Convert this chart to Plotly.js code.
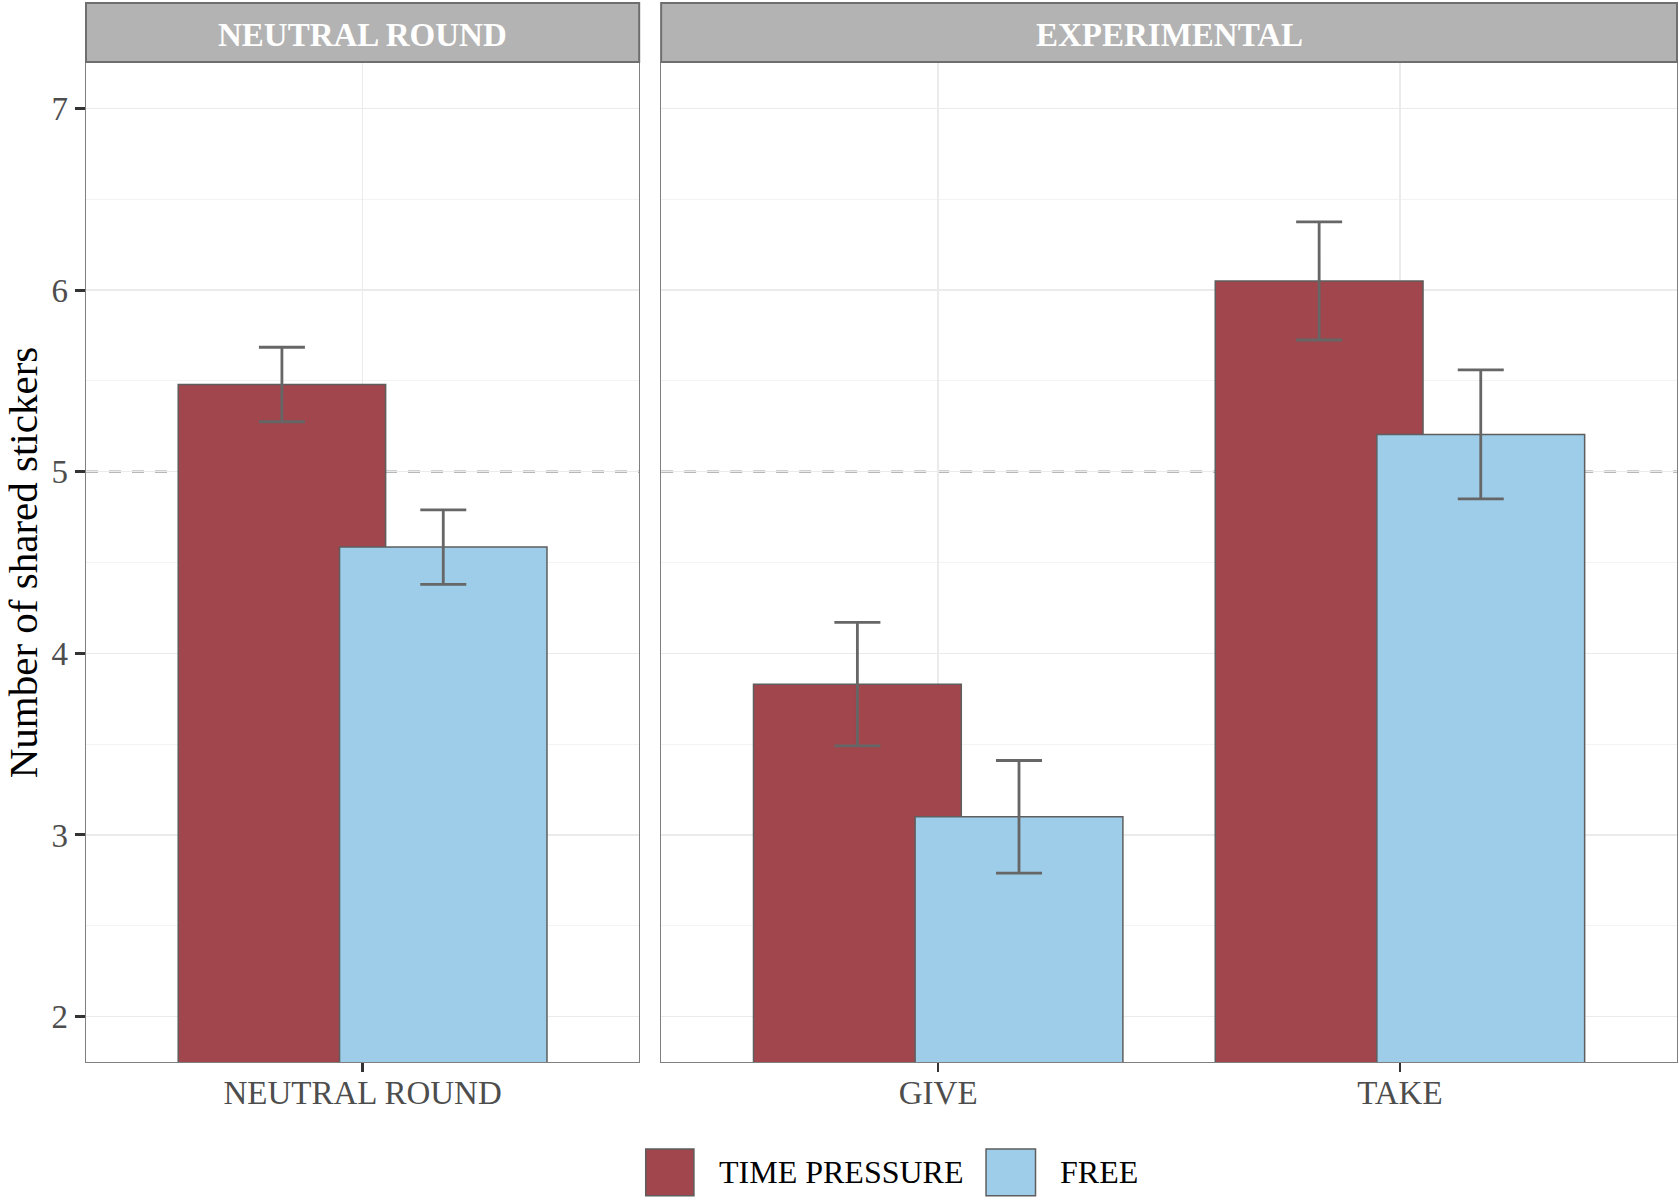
<!DOCTYPE html>
<html>
<head>
<meta charset="utf-8">
<script src="https://cdn.plot.ly/plotly-3.0.1.min.js"></script>
<style>html,body{margin:0;padding:0;background:#fff;}#chart{width:1679px;height:1200px;}</style>
</head>
<body>
<div id="chart"></div>
<script>
// Data
const neutralCats = ['NEUTRAL ROUND'];
const expCats = ['GIVE', 'TAKE'];
const tpNeutral = [5.48];
const tpNeutralErr = [0.205];
const freeNeutral = [4.585];
const freeNeutralErr = [0.205];
const tpExp = [3.83, 6.05];
const tpExpErr = [0.34, 0.325];
const freeExp = [3.10, 5.205];
const freeExpErr = [0.31, 0.355];
const seriesNames = ['TIME PRESSURE', 'FREE'];
const panelTitles = ['NEUTRAL ROUND', 'EXPERIMENTAL'];
const refLine = 5;

const FONT = 'Liberation Serif, Times New Roman, serif';
const colTP = '#A0464C';
const colFree = '#9ECDEA';
const outline = '#5E5E5E';
const errCol = '#666666';

function barTrace(x, y, err, color, offset, xa, ya, name) {
  return {
    type: 'bar', x: x, y: y, name: name, xaxis: xa, yaxis: ya,
    offset: offset, width: 0.45,
    base: 0,
    marker: {color: color, line: {color: outline, width: 1.5}},
    error_y: {type: 'data', array: err, visible: true, color: errCol, thickness: 2.8, width: 23},
    showlegend: false, hoverinfo: 'skip'
  };
}

const data = [
  barTrace(neutralCats, tpNeutral, tpNeutralErr, colTP, -0.4, 'x', 'y', seriesNames[0]),
  barTrace(neutralCats, freeNeutral, freeNeutralErr, colFree, -0.05, 'x', 'y', seriesNames[1]),
  barTrace(expCats, tpExp, tpExpErr, colTP, -0.4, 'x2', 'y2', seriesNames[0]),
  barTrace(expCats, freeExp, freeExpErr, colFree, -0.05, 'x2', 'y2', seriesNames[1])
];

const tickFont = {family: FONT, size: 33, color: '#4D4D4D'};
const frame = {showline: true, mirror: true, linecolor: '#7F7F7F', linewidth: 1.3, zeroline: false};

const yCommon = Object.assign({
  range: [1.75, 7.25], dtick: 1, tick0: 0,
  showgrid: true, gridcolor: '#EBEBEB', gridwidth: 1.6,
  minor: {dtick: 0.5, showgrid: true, gridcolor: '#F3F3F3', gridwidth: 1},
}, frame);

const xCommon = Object.assign({
  type: 'category', showgrid: true, gridcolor: '#EBEBEB', gridwidth: 1.6,
  ticks: 'outside', ticklen: 9, tickwidth: 2.5, tickcolor: '#333333',
  tickfont: tickFont, ticklabelstandoff: -8
}, frame);

const xL = [0, 0.3477], xR = [0.3615, 1];
const stripTop = 1.0601;

const shapes = [];
const annotations = [];
[['x', 'y'], ['x2', 'y2']].forEach(function (ax, i) {
  shapes.push({type: 'rect', xref: ax[0] + ' domain', yref: 'paper', x0: 0, x1: 1, y0: 1.001, y1: stripTop,
    fillcolor: '#B3B3B3', line: {color: '#6E6E6E', width: 2}, layer: 'above'});
  shapes.push({type: 'line', xref: ax[0] + ' domain', yref: ax[1], x0: 0, x1: 1, y0: refLine, y1: refLine,
    line: {color: '#A0A0A0', width: 2.2, dash: '12px,11px'}, layer: 'below'});
  annotations.push({xref: ax[0] + ' domain', yref: 'paper', x: 0.5, y: (1 + stripTop) / 2 - 0.002, yanchor: 'middle',
    text: '<b>' + panelTitles[i] + '</b>', showarrow: false, font: {family: FONT, size: 33, color: '#FFFFFF'}});
});

// Legend (custom, large keys)
const legendItems = [
  {name: seriesNames[0], color: colTP, x0: 0.3518, x1: 0.3821, tx: 0.3966},
  {name: seriesNames[1], color: colFree, x0: 0.5657, x1: 0.5968, tx: 0.6109}
];
legendItems.forEach(function (it) {
  shapes.push({type: 'rect', xref: 'paper', yref: 'paper', x0: it.x0, x1: it.x1, y0: -0.087, y1: -0.134,
    fillcolor: it.color, line: {color: outline, width: 1.5}});
  annotations.push({xref: 'paper', yref: 'paper', x: it.tx, y: -0.1105, xanchor: 'left', yanchor: 'middle',
    text: it.name, showarrow: false, font: {family: FONT, size: 32, color: '#000000'}});
});

const layout = {
  width: 1679, height: 1200,
  margin: {l: 86, r: 2, t: 63, b: 138},
  paper_bgcolor: '#FFFFFF', plot_bgcolor: '#FFFFFF',
  barmode: 'overlay',
  font: {family: FONT},
  xaxis: Object.assign({}, xCommon, {domain: xL, range: [-0.6, 0.6], anchor: 'y'}),
  xaxis2: Object.assign({}, xCommon, {domain: xR, range: [-0.6, 1.6], anchor: 'y2'}),
  yaxis: Object.assign({}, yCommon, {anchor: 'x', ticks: 'outside', ticklen: 10, tickwidth: 3, tickcolor: '#333333',
    tickfont: tickFont,
    title: {text: 'Number of shared stickers', font: {family: FONT, size: 41, color: '#000000'}, standoff: 20}}),
  yaxis2: Object.assign({}, yCommon, {anchor: 'x2', matches: 'y', showticklabels: false, ticks: ''}),
  shapes: shapes,
  annotations: annotations,
  showlegend: false
};

Plotly.newPlot('chart', data, layout, {displayModeBar: false, staticPlot: true});
</script>
</body>
</html>
